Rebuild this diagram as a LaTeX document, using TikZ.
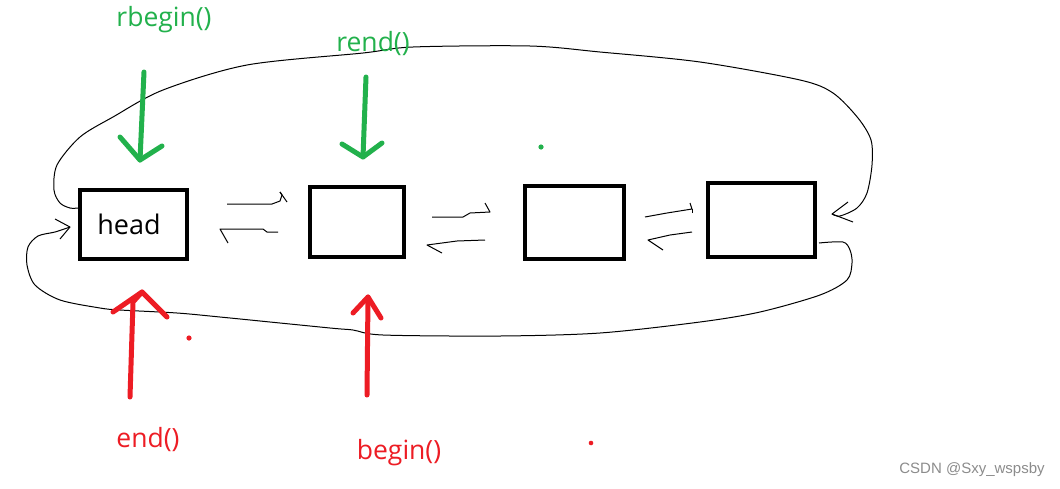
\documentclass[tikz,border=0pt]{standalone}
\usepackage{fontspec}
\setmainfont{Open Sans}
\newfontfamily\wmfont{Liberation Sans}
\definecolor{pgreen}{HTML}{22B14C}
\definecolor{pred}{HTML}{ED1C24}
\begin{document}
\begin{tikzpicture}[x=1pt,y=-1pt,
  box/.style={draw=black,line width=4pt,inner sep=0pt,outer sep=0pt},
  thin/.style={line width=1pt,black,line join=round},
  garrow/.style={line width=5pt,pgreen,line cap=round,line join=round},
  rarrow/.style={line width=5pt,pred,line cap=round,line join=round},
  lbl/.style={font=\fontsize{26.5}{30}\selectfont,inner sep=0pt}]
\useasboundingbox (0,0) rectangle (1060,488);
\fill[white] (0,0) rectangle (1060,488);
% boxes
\node[box,minimum width=107pt,minimum height=69pt] (head) at (133.5,224.5) {};
\node[lbl,font=\fontsize{27}{30}\selectfont] (headtxt) at (129,224) {head};
\node[box,minimum width=94pt,minimum height=70pt] (b2) at (357,222) {};
\node[box,minimum width=99pt,minimum height=73pt] (b3) at (574.5,222.5) {};
\node[box,minimum width=107pt,minimum height=74pt] (b4) at (761.5,220) {};
% small double arrows
\draw[thin] (227,204) -- (272,204) -- (280,201) -- (282,195) -- (280,192);
\draw[thin] (280,192) -- (287,202);
\draw[thin] (278,232) -- (267,232) -- (263,229) -- (220,229) -- (228,243);
\draw[thin] (432,217) -- (463,217) -- (470,213) -- (490,212) -- (485,203);
\draw[thin] (485,240) -- (457,241) -- (427,245) -- (442,253);
\draw[thin] (645,217) -- (667,213) -- (692,209) -- (690,203);
\draw[thin] (692,213) -- (692,209);
\draw[thin] (692,232) -- (670,235) -- (648,240) -- (663,250);
% top loop
\coordinate (ttip) at (832,214);
\draw[thin] plot[smooth,tension=0.5] coordinates {(78,208) (70,208) (60,203) (54,190) (57,165) (80,137) (113,117) (163,90) (247,65) (363,53) (413,47) (530,46) (600,52) (700,62) (800,80) (833,93) (858,118) (871,140) (872,165) (867,193) (857,208) (840,216) (832,214)};
\draw[thin] (848,202) -- (ttip) -- (853,222);
% bottom loop
\coordinate (btip) at (70,227);
\draw[thin] plot[smooth,tension=0.5] coordinates {(819,243) (843,242) (850,250) (852,263) (847,280) (820,295) (760,312) (700,322) (600,333) (500,336) (383,335) (353,330) (330,328) (220,317) (177,313) (120,310) (100,308) (60,300) (35,285) (27,265) (28,247) (38,236) (55,232) (70,227)};
\draw[thin] (55,219) -- (btip) -- (60,239);
% green labels & arrows
\node[lbl,text=pgreen] (rbeg) at (164,20) {rbegin()};
\node[lbl,text=pgreen] (rend) at (373,44) {rend()};
\draw[garrow] (144,72) -- (140,160);
\draw[garrow] (120,137) -- (140,160) -- (162,146);
\draw[garrow] (366,77) -- (363,157);
\draw[garrow] (342,144) -- (363,157) -- (382,143);
\fill[pgreen] (541,147) circle (2.6);
% red labels & arrows
\node[lbl,text=pred] (endl) at (148,440) {end()};
\node[lbl,text=pred] (begl) at (399,453) {begin()};
\draw[rarrow] (130,397) -- (133,302) -- (142,292);
\draw[rarrow] (113,312) -- (142,292) -- (167,317);
\draw[rarrow] (367,395) -- (368,297);
\draw[rarrow] (353,313) -- (368,297) -- (381,318);
\fill[pred] (189,338) circle (2.6);
\fill[pred] (591,443) circle (2.3);
% watermark
\node[font=\wmfont\fontsize{15}{17}\selectfont,text=black!45,inner sep=0pt] (wm) at (972,470) {CSDN @Sxy\_wspsby};
\end{tikzpicture}
\end{document}
